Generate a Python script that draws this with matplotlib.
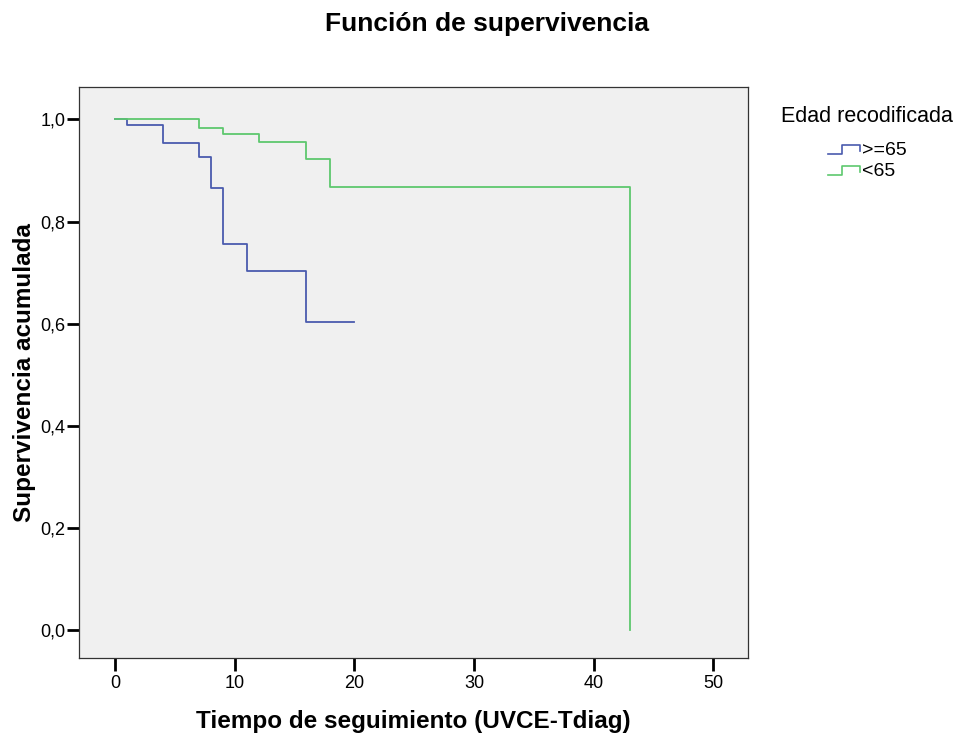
import matplotlib
matplotlib.use("Agg")
import matplotlib.pyplot as plt
from matplotlib.legend_handler import HandlerBase
from matplotlib.lines import Line2D

plt.rcParams['font.family'] = ['Liberation Sans', 'DejaVu Sans']

# Kaplan-Meier steps
old_times = [0, 1, 4, 7, 8, 9, 11, 16, 20]
old_surv = [1.0, 0.989, 0.953, 0.926, 0.865, 0.755, 0.703, 0.603, 0.603]

young_times = [0, 7, 9, 12, 16, 18, 43, 43]
young_surv = [1.0, 0.983, 0.972, 0.956, 0.922, 0.867, 0.867, 0.0]

group_labels = [">=65", "<65"]
group_colors = ["#4A5BAE", "#5DC86E"]
x_ticks = [0, 10, 20, 30, 40, 50]
y_ticks = [0.0, 0.2, 0.4, 0.6, 0.8, 1.0]


class StepHandler(HandlerBase):
    """Draws the little step glyph used in the SPSS legend."""
    def create_artists(self, legend, orig_handle, xdescent, ydescent,
                       width, height, fontsize, trans):
        w, h = width, height
        xs = [0, 0.45 * w, 0.45 * w, w, w]
        ys = [0.1 * h, 0.1 * h, 0.75 * h, 0.75 * h, 0.3 * h]
        line = Line2D(xs, ys, color=orig_handle.get_color(), lw=1.2, transform=trans)
        return [line]


fig = plt.figure(figsize=(9.64, 7.4), dpi=100)
ax = fig.add_axes([0.082, 0.111, 0.694, 0.771])
ax.set_facecolor("#F0F0F0")

l1, = ax.step(old_times, old_surv, where="post", color=group_colors[0], lw=1.3)
l2, = ax.step(young_times, young_surv, where="post", color=group_colors[1], lw=1.3)

ax.set_xlim(-3.0, 52.9)
ax.set_ylim(-0.055, 1.063)
ax.set_xticks(x_ticks)
ax.set_yticks(y_ticks)
ax.set_xticklabels([str(t) for t in x_ticks])
ax.set_yticklabels([f"{v:.1f}".replace(".", ",") for v in y_ticks])
ax.tick_params(axis="x", direction="out", length=9, width=2, labelsize=13, colors="black", pad=3)
ax.tick_params(axis="y", direction="out", length=9, width=2, labelsize=13, colors="black", pad=1)
for s in ax.spines.values():
    s.set_color("#333333")
    s.set_linewidth(0.9)

ax.set_xlabel("Tiempo de seguimiento (UVCE-Tdiag)", fontsize=17.5, fontweight="bold", labelpad=13)
ax.set_ylabel("Supervivencia acumulada", fontsize=17.5, fontweight="bold", labelpad=3)
fig.suptitle("Función de supervivencia", fontsize=19, fontweight="bold",
             x=0.505, y=0.968, va="center")

fig.text(781 / 964, 0.843, "Edad recodificada", fontsize=15.5, va="center", ha="left")
fig.legend([l1, l2], group_labels,
           handler_map={Line2D: StepHandler()},
           loc="upper left", bbox_to_anchor=(828 / 964, 0.809), frameon=False,
           borderpad=0, borderaxespad=0,
           fontsize=14, handlelength=1.65, handletextpad=0.1, labelspacing=0.2)

fig.savefig("out.png", dpi=100, facecolor="white")
